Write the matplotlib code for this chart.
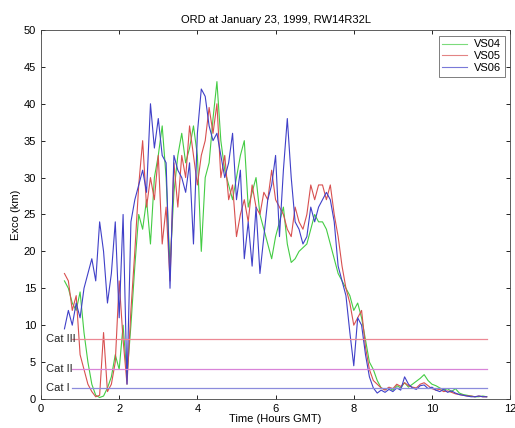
import numpy as np
import matplotlib
matplotlib.use("Agg")
import matplotlib.pyplot as plt

plt.rcParams['font.family'] = ['Liberation Sans', 'DejaVu Sans']

# sample times (hours GMT), 0.1 h spacing
hours = np.round(np.arange(0.6, 11.41, 0.1), 2)

vs04 = [16, 15, 13, 12, 14.5, 9, 5, 2, 0.5, 0.2,
        0.4, 1.5, 3, 6, 4, 10, 3, 10, 18, 25,
        23, 27, 21, 30, 33, 37, 30, 18, 28, 33,
        36, 32, 34, 37, 33, 20, 30, 32, 38, 43,
        35, 31, 29, 27, 30, 33, 35, 26, 28, 30,
        25, 23, 21, 19, 22, 24, 26, 21, 18.5, 19,
        20, 20.5, 21, 23, 25, 24, 24, 23, 21, 19,
        17, 16, 15, 14, 12, 13, 11, 8, 5, 4,
        2.5, 1.5, 1.3, 1.5, 1.2, 1.8, 1.5, 2.2, 1.6, 2.0,
        2.4, 2.8, 3.3, 2.5, 2.0, 1.8, 1.5, 1.2, 1.4, 1.0,
        1.4, 0.8, 0.6, 0.5, 0.4, 0.3, 0.3, 0.4, 0.3]

vs05 = [17, 16, 12, 14, 6, 4, 2, 1, 0.3, 0.5,
        9, 1, 2, 5, 16, 8, 2, 12, 20, 29,
        35, 26, 30, 27, 33, 21, 26, 16, 32, 26,
        33, 30, 37, 33, 29, 33, 35, 39.5, 36, 40,
        30, 33, 27, 29, 22, 25, 27, 24, 29, 26,
        25, 28, 27, 31, 27, 26, 25, 23, 22, 26,
        24, 23, 25, 29, 27, 29, 29, 27, 29, 25,
        22, 18, 15, 13, 10, 11, 12, 7, 4, 2.5,
        2, 1.5, 1.2, 1.6, 1.4, 2.0, 1.7, 2.2, 1.8, 1.6,
        1.5, 2.0, 2.2, 1.8, 1.4, 1.2, 1.3, 1.0, 1.1, 0.9,
        0.7, 0.6, 0.5, 0.4, 0.4, 0.3, 0.4, 0.3, 0.3]

vs06 = [9.5, 12, 10, 13, 11, 15, 17, 19, 16, 24,
        20, 13, 17, 24, 11, 25, 2, 24, 27, 29,
        31, 28, 40, 34, 38, 33, 32, 15, 33, 31,
        30, 28, 32, 21, 36, 42, 41, 37, 35, 36,
        33, 30, 32, 36, 27, 31, 19, 24, 18, 26,
        17, 22, 27, 29, 33, 22, 31, 38, 30, 24,
        23, 21, 22, 26, 24, 26, 27, 28, 27, 24,
        18, 16, 14, 9, 4.5, 11, 10, 6, 3, 1.5,
        0.8, 1.2, 0.9, 1.3, 1.0, 1.5, 1.2, 3.0, 2.0, 1.5,
        1.3, 1.8, 1.9, 1.4, 1.6, 1.2, 1.0, 1.3, 0.9, 1.1,
        0.8, 0.6, 0.5, 0.4, 0.3, 0.3, 0.4, 0.3, 0.3]

series_names = ["VS04", "VS05", "VS06"]
series_colors = ["#44cc44", "#d85050", "#4040c8"]

# category thresholds (km)
cat_labels = ["Cat III", "Cat II", "Cat I"]
cat_levels = [8.1, 4.0, 1.5]
cat_colors = ["#ec8894", "#d884d8", "#8c8cdc"]
cat_span = [0.8, 11.4]

fig = plt.figure(figsize=(5.15, 4.28), dpi=100)
ax = fig.add_axes([0.0796, 0.0678, 0.911, 0.8622])

for name, vals, col in zip(series_names, [vs04, vs05, vs06], series_colors):
    ax.plot(hours, vals, color=col, lw=0.8, label=name)

for lab, lev, col in zip(cat_labels, cat_levels, cat_colors):
    ax.plot(cat_span, [lev, lev], color=col, lw=0.9)
    ax.text(0.12, lev, lab, fontsize=8, va='center', ha='left', color='#222222')

ax.set_xlim(0, 12)
ax.set_ylim(0, 50)
ax.set_xticks(np.arange(0, 13, 2))
ax.set_yticks(np.arange(0, 51, 5))
ax.tick_params(direction='in', top=True, right=True, labelsize=8, length=3, width=0.6)
for s in ax.spines.values():
    s.set_linewidth(0.6)
    s.set_color('#444444')

ax.set_title("ORD at January 23, 1999, RW14R32L", fontsize=8, pad=5)
ax.set_xlabel("Time (Hours GMT)", fontsize=8, labelpad=0)
ax.set_ylabel("Exco (km)", fontsize=8, labelpad=2)

leg = ax.legend(loc='upper right', fontsize=8, frameon=True, fancybox=False,
                handlelength=2.2, borderpad=0.35, labelspacing=0.15,
                handletextpad=0.6, borderaxespad=0.5)
leg.get_frame().set_edgecolor('#444444')
leg.get_frame().set_linewidth(0.6)
for line in leg.get_lines():
    line.set_alpha(0.7)

fig.savefig("out.png", dpi=100)
